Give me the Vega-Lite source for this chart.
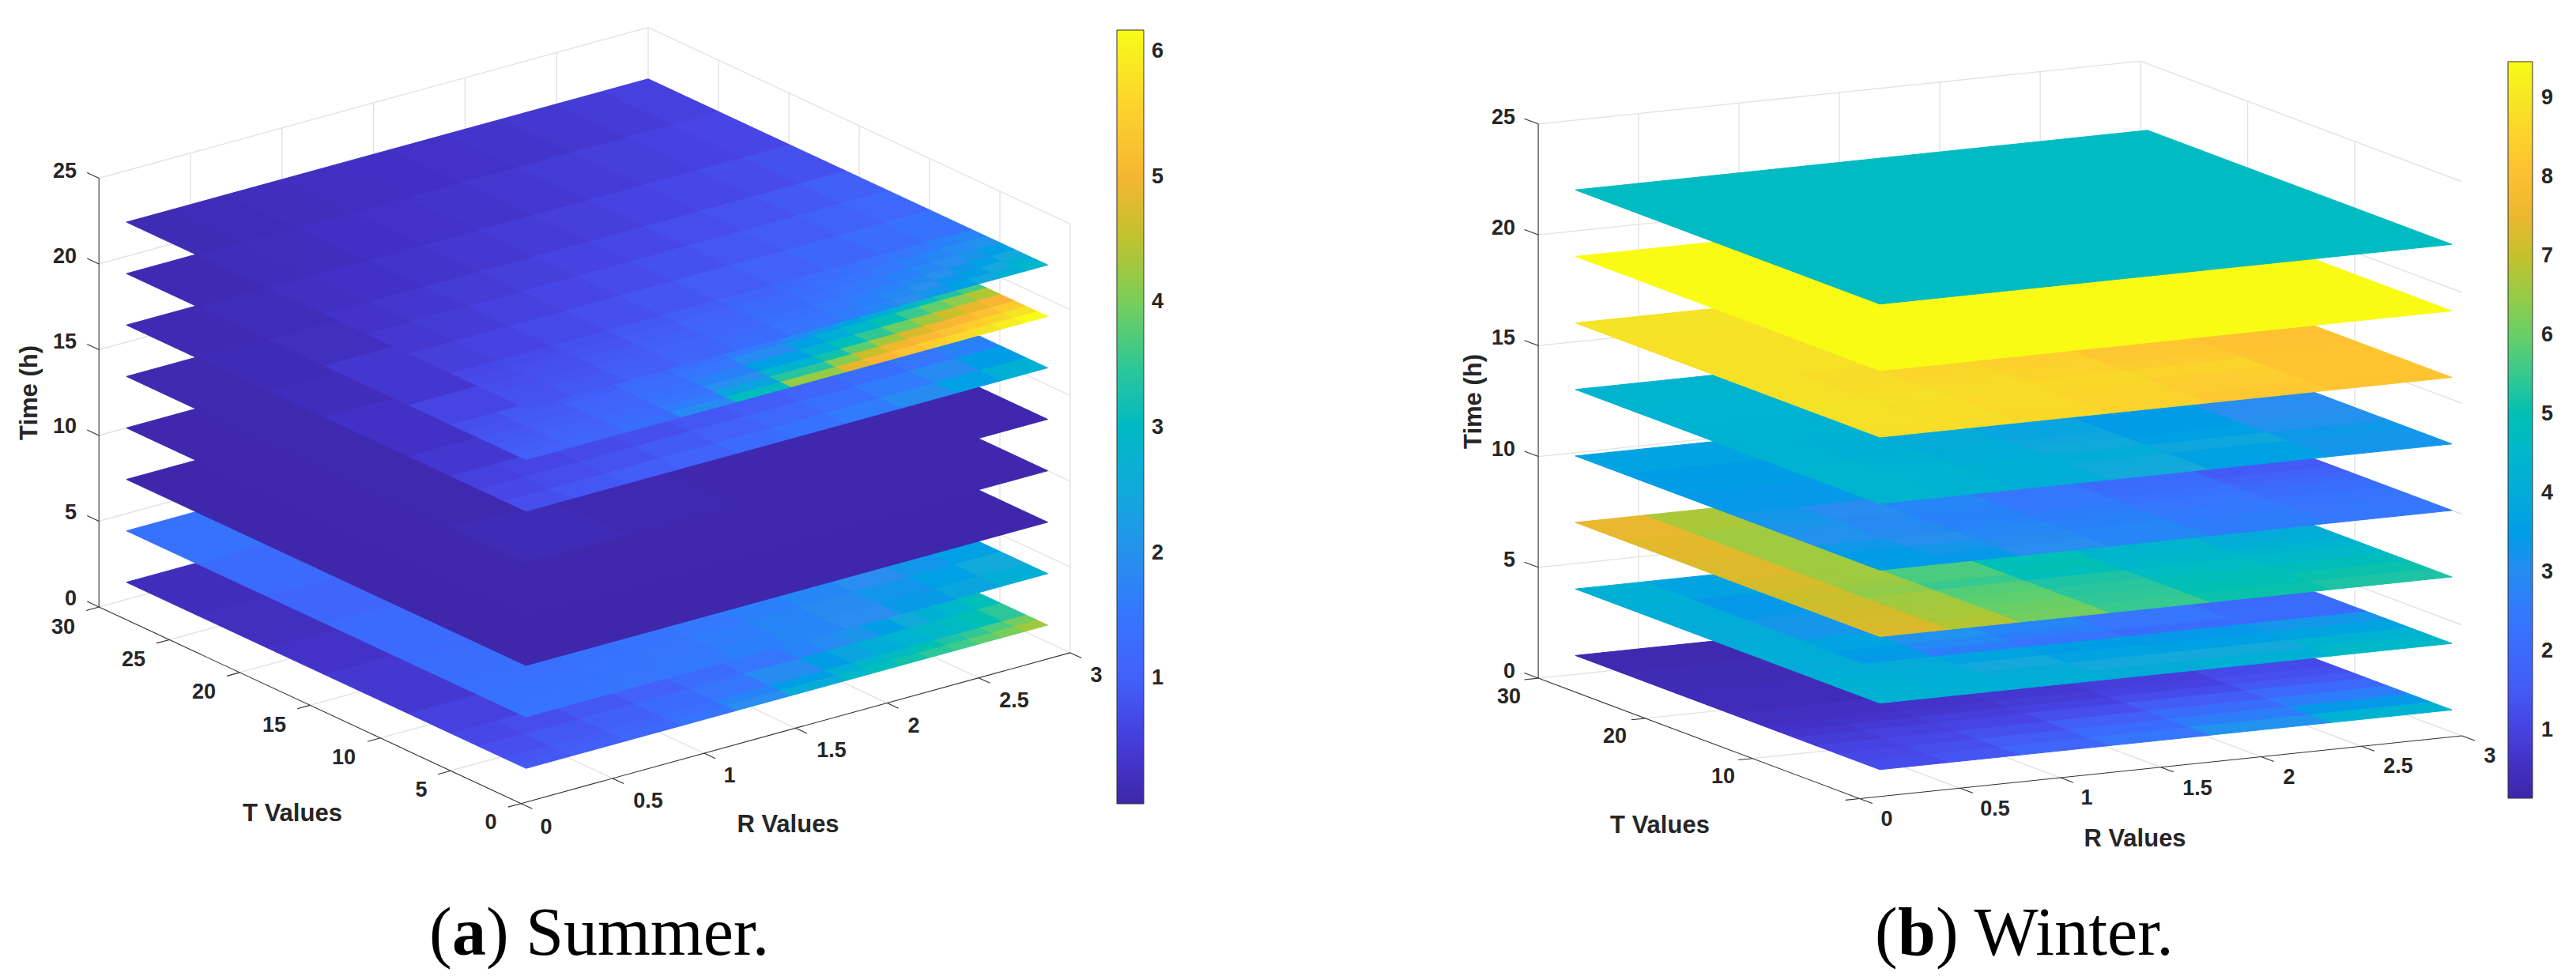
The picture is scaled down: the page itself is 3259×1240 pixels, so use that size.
{"$schema":"https://vega.github.io/schema/vega-lite/v6.json","width":3259,"height":1240,"padding":0,"autosize":{"type":"fit","contains":"padding"},"background":"white","config":{"view":{"stroke":null}},
"datasets":{
"S":[
{"z":1,"i":0,"j":0,"v":0.87},{"z":1,"i":1,"j":0,"v":0.98},{"z":1,"i":2,"j":0,"v":1.15},{"z":1,"i":3,"j":0,"v":1.45},{"z":1,"i":4,"j":0,"v":1.95},{"z":1,"i":5,"j":0,"v":2.55},{"z":1,"i":6,"j":0,"v":2.95},{"z":1,"i":7,"j":0,"v":3.15},{"z":1,"i":8,"j":0,"v":3.3},{"z":1,"i":9,"j":0,"v":3.45},{"z":1,"i":10,"j":0,"v":3.6},{"z":1,"i":11,"j":0,"v":3.8},{"z":1,"i":12,"j":0,"v":4.0},{"z":1,"i":13,"j":0,"v":4.3},
{"z":1,"i":0,"j":1,"v":0.83},{"z":1,"i":1,"j":1,"v":0.93},{"z":1,"i":2,"j":1,"v":1.08},{"z":1,"i":3,"j":1,"v":1.32},{"z":1,"i":4,"j":1,"v":1.75},{"z":1,"i":5,"j":1,"v":2.25},{"z":1,"i":6,"j":1,"v":2.65},{"z":1,"i":7,"j":1,"v":2.9},{"z":1,"i":8,"j":1,"v":3.05},{"z":1,"i":9,"j":1,"v":3.2},{"z":1,"i":10,"j":1,"v":3.35},{"z":1,"i":11,"j":1,"v":3.5},{"z":1,"i":12,"j":1,"v":3.7},{"z":1,"i":13,"j":1,"v":3.95},
{"z":1,"i":0,"j":2,"h":2,"v":0.75},{"z":1,"i":1,"j":2,"h":2,"v":0.85},{"z":1,"i":2,"j":2,"h":2,"v":0.98},{"z":1,"i":3,"j":2,"h":2,"v":1.2},{"z":1,"i":4,"j":2,"h":2,"v":1.5},{"z":1,"i":5,"j":2,"h":2,"v":1.9},{"z":1,"i":6,"j":2,"h":2,"v":2.2},{"z":1,"i":7,"j":2,"h":2,"v":2.4},{"z":1,"i":8,"j":2,"h":2,"v":2.6},{"z":1,"i":9,"j":2,"h":2,"v":2.8},{"z":1,"i":10,"j":2,"h":2,"v":2.95},{"z":1,"i":11,"j":2,"h":2,"v":3.05},{"z":1,"i":12,"j":2,"h":2,"v":3.2},{"z":1,"i":13,"j":2,"h":2,"v":3.45},
{"z":1,"i":0,"j":4,"h":2,"v":0.65},{"z":1,"i":1,"j":4,"h":2,"v":0.72},{"z":1,"i":2,"j":4,"h":2,"v":0.85},{"z":1,"i":3,"j":4,"h":2,"v":1.0},{"z":1,"i":4,"j":4,"h":2,"v":1.25},{"z":1,"i":5,"j":4,"h":2,"v":1.5},{"z":1,"i":6,"j":4,"h":2,"v":1.72},{"z":1,"i":7,"j":4,"h":2,"v":1.88},{"z":1,"i":8,"j":4,"h":2,"v":2.05},{"z":1,"i":9,"j":4,"h":2,"v":2.25},{"z":1,"i":10,"j":4,"h":2,"v":2.5},{"z":1,"i":11,"j":4,"h":2,"v":2.7},{"z":1,"i":12,"j":4,"h":2,"v":2.9},{"z":1,"i":13,"j":4,"h":2,"v":3.15},
{"z":1,"i":0,"j":6,"w":2,"h":2,"v":0.55},{"z":1,"i":0,"j":8,"w":2,"h":2,"v":0.42},{"z":1,"i":0,"j":10,"w":2,"v":0.32},{"z":1,"i":0,"j":11,"w":2,"v":0.25},{"z":1,"i":0,"j":12,"w":2,"v":0.2},{"z":1,"i":2,"j":6,"w":12,"h":7,"v":0.7},
{"z":4,"i":0,"j":0,"h":2,"v":1.45},{"z":4,"i":1,"j":0,"h":2,"v":1.45},{"z":4,"i":2,"j":0,"h":2,"v":1.5},{"z":4,"i":3,"j":0,"h":2,"v":1.55},{"z":4,"i":4,"j":0,"h":2,"v":1.65},{"z":4,"i":5,"j":0,"h":2,"v":1.8},{"z":4,"i":6,"w":2,"j":0,"h":2,"v":1.95},{"z":4,"i":8,"w":2,"j":0,"h":2,"v":2.15},{"z":4,"i":10,"w":2,"j":0,"h":2,"v":2.4},{"z":4,"i":12,"w":2,"j":0,"h":2,"v":2.65},
{"z":4,"i":0,"j":2,"h":2,"v":1.4},{"z":4,"i":1,"j":2,"h":2,"v":1.4},{"z":4,"i":2,"j":2,"h":2,"v":1.45},{"z":4,"i":3,"j":2,"h":2,"v":1.5},{"z":4,"i":4,"j":2,"h":2,"v":1.6},{"z":4,"i":5,"j":2,"h":2,"v":1.75},{"z":4,"i":6,"w":2,"j":2,"h":2,"v":1.9},{"z":4,"i":8,"w":2,"j":2,"h":2,"v":2.1},{"z":4,"i":10,"w":2,"j":2,"h":2,"v":2.3},{"z":4,"i":12,"w":2,"j":2,"h":2,"v":2.5},
{"z":4,"i":0,"j":4,"h":2,"v":1.35},{"z":4,"i":1,"j":4,"h":2,"v":1.35},{"z":4,"i":2,"j":4,"h":2,"v":1.4},{"z":4,"i":3,"j":4,"h":2,"v":1.45},{"z":4,"i":4,"j":4,"h":2,"v":1.55},{"z":4,"i":5,"j":4,"h":2,"v":1.65},{"z":4,"i":6,"w":2,"j":4,"h":2,"v":1.8},{"z":4,"i":8,"w":2,"j":4,"h":2,"v":1.95},{"z":4,"i":10,"w":2,"j":4,"h":2,"v":2.1},{"z":4,"i":12,"w":2,"j":4,"h":2,"v":2.3},
{"z":4,"i":0,"j":6,"w":2,"h":2,"v":1.3},{"z":4,"i":0,"j":8,"w":2,"h":2,"v":1.2},{"z":4,"i":0,"j":10,"w":2,"v":1.1},{"z":4,"i":0,"j":11,"w":2,"v":1.2},{"z":4,"i":0,"j":12,"w":2,"v":1.4},{"z":4,"i":2,"j":6,"w":12,"h":7,"v":1.5},
{"z":7,"i":0,"j":0,"w":14,"h":13,"v":0.03},{"z":10,"i":0,"j":0,"w":14,"h":13,"v":0.05},
{"z":13,"i":0,"j":0,"w":2,"h":6,"v":0.15},{"z":13,"i":2,"j":0,"w":2,"h":6,"v":0.1},{"z":13,"i":4,"j":0,"w":10,"h":6,"v":0.06},{"z":13,"i":0,"j":6,"w":2,"h":7,"v":0.08},{"z":13,"i":2,"j":6,"w":12,"h":7,"v":0.08},
{"z":16,"i":0,"j":0,"h":2,"v":0.75},{"z":16,"i":1,"j":0,"h":2,"v":0.85},{"z":16,"i":2,"j":0,"h":2,"v":0.95},{"z":16,"i":3,"j":0,"h":2,"v":1.05},{"z":16,"i":4,"j":0,"h":2,"v":1.2},{"z":16,"i":5,"j":0,"h":2,"v":1.4},{"z":16,"i":6,"w":2,"j":0,"h":2,"v":1.6},{"z":16,"i":8,"w":2,"j":0,"h":2,"v":1.9},{"z":16,"i":10,"w":2,"j":0,"h":2,"v":2.3},{"z":16,"i":12,"w":2,"j":0,"h":2,"v":2.7},
{"z":16,"i":0,"j":2,"h":2,"v":0.65},{"z":16,"i":1,"j":2,"h":2,"v":0.72},{"z":16,"i":2,"j":2,"h":2,"v":0.8},{"z":16,"i":3,"j":2,"h":2,"v":0.9},{"z":16,"i":4,"j":2,"h":2,"v":1.0},{"z":16,"i":5,"j":2,"h":2,"v":1.15},{"z":16,"i":6,"w":2,"j":2,"h":2,"v":1.35},{"z":16,"i":8,"w":2,"j":2,"h":2,"v":1.6},{"z":16,"i":10,"w":2,"j":2,"h":2,"v":1.9},{"z":16,"i":12,"w":2,"j":2,"h":2,"v":2.2},
{"z":16,"i":0,"j":4,"h":2,"v":0.55},{"z":16,"i":1,"j":4,"h":2,"v":0.6},{"z":16,"i":2,"j":4,"h":2,"v":0.68},{"z":16,"i":3,"j":4,"h":2,"v":0.75},{"z":16,"i":4,"j":4,"h":2,"v":0.85},{"z":16,"i":5,"j":4,"h":2,"v":0.95},{"z":16,"i":6,"w":2,"j":4,"h":2,"v":1.1},{"z":16,"i":8,"w":2,"j":4,"h":2,"v":1.3},{"z":16,"i":10,"w":2,"j":4,"h":2,"v":1.5},{"z":16,"i":12,"w":2,"j":4,"h":2,"v":1.7},
{"z":16,"i":0,"j":6,"w":2,"h":2,"v":0.4},{"z":16,"i":0,"j":8,"w":2,"h":2,"v":0.3},{"z":16,"i":0,"j":10,"w":2,"v":0.2},{"z":16,"i":0,"j":11,"w":2,"v":0.15},{"z":16,"i":0,"j":12,"w":2,"v":0.12},{"z":16,"i":2,"j":6,"w":12,"h":7,"v":0.6},
{"z":19,"i":0,"j":0,"v":1.0},{"z":19,"i":1,"j":0,"v":1.1},{"z":19,"i":2,"j":0,"v":1.3},{"z":19,"i":3,"j":0,"v":1.9},{"z":19,"i":4,"j":0,"v":3.1},{"z":19,"i":5,"j":0,"v":4.2},{"z":19,"i":6,"j":0,"v":4.8},{"z":19,"i":7,"j":0,"v":5.1},{"z":19,"i":8,"j":0,"v":5.3},{"z":19,"i":9,"j":0,"v":5.5},{"z":19,"i":10,"j":0,"v":5.65},{"z":19,"i":11,"j":0,"v":5.8},{"z":19,"i":12,"j":0,"v":5.95},{"z":19,"i":13,"j":0,"v":6.15},
{"z":19,"i":0,"j":1,"v":0.95},{"z":19,"i":1,"j":1,"v":1.05},{"z":19,"i":2,"j":1,"v":1.2},{"z":19,"i":3,"j":1,"v":1.6},{"z":19,"i":4,"j":1,"v":2.4},{"z":19,"i":5,"j":1,"v":3.4},{"z":19,"i":6,"j":1,"v":4.1},{"z":19,"i":7,"j":1,"v":4.6},{"z":19,"i":8,"j":1,"v":4.95},{"z":19,"i":9,"j":1,"v":5.15},{"z":19,"i":10,"j":1,"v":5.3},{"z":19,"i":11,"j":1,"v":5.45},{"z":19,"i":12,"j":1,"v":5.6},{"z":19,"i":13,"j":1,"v":5.8},
{"z":19,"i":0,"j":2,"v":0.9},{"z":19,"i":1,"j":2,"v":1.0},{"z":19,"i":2,"j":2,"v":1.15},{"z":19,"i":3,"j":2,"v":1.45},{"z":19,"i":4,"j":2,"v":2.0},{"z":19,"i":5,"j":2,"v":2.8},{"z":19,"i":6,"j":2,"v":3.3},{"z":19,"i":7,"j":2,"v":3.8},{"z":19,"i":8,"j":2,"v":4.3},{"z":19,"i":9,"j":2,"v":4.7},{"z":19,"i":10,"j":2,"v":4.95},{"z":19,"i":11,"j":2,"v":5.1},{"z":19,"i":12,"j":2,"v":5.25},{"z":19,"i":13,"j":2,"v":5.45},
{"z":19,"i":0,"j":3,"v":0.85},{"z":19,"i":1,"j":3,"v":0.95},{"z":19,"i":2,"j":3,"v":1.1},{"z":19,"i":3,"j":3,"v":1.35},{"z":19,"i":4,"j":3,"v":1.7},{"z":19,"i":5,"j":3,"v":2.3},{"z":19,"i":6,"j":3,"v":2.75},{"z":19,"i":7,"j":3,"v":3.1},{"z":19,"i":8,"j":3,"v":3.5},{"z":19,"i":9,"j":3,"v":3.9},{"z":19,"i":10,"j":3,"v":4.3},{"z":19,"i":11,"j":3,"v":4.6},{"z":19,"i":12,"j":3,"v":4.85},{"z":19,"i":13,"j":3,"v":5.05},
{"z":19,"i":0,"j":4,"v":0.8},{"z":19,"i":1,"j":4,"v":0.9},{"z":19,"i":2,"j":4,"v":1.05},{"z":19,"i":3,"j":4,"v":1.25},{"z":19,"i":4,"j":4,"v":1.5},{"z":19,"i":5,"j":4,"v":1.9},{"z":19,"i":6,"j":4,"v":2.3},{"z":19,"i":7,"j":4,"v":2.6},{"z":19,"i":8,"j":4,"v":2.9},{"z":19,"i":9,"j":4,"v":3.2},{"z":19,"i":10,"j":4,"v":3.55},{"z":19,"i":11,"j":4,"v":3.85},{"z":19,"i":12,"j":4,"v":4.15},{"z":19,"i":13,"j":4,"v":4.4},
{"z":19,"i":0,"j":5,"v":0.75},{"z":19,"i":1,"j":5,"v":0.85},{"z":19,"i":2,"j":5,"v":0.95},{"z":19,"i":3,"j":5,"v":1.15},{"z":19,"i":4,"j":5,"v":1.35},{"z":19,"i":5,"j":5,"v":1.6},{"z":19,"i":6,"j":5,"v":1.85},{"z":19,"i":7,"j":5,"v":2.1},{"z":19,"i":8,"j":5,"v":2.35},{"z":19,"i":9,"j":5,"v":2.6},{"z":19,"i":10,"j":5,"v":2.85},{"z":19,"i":11,"j":5,"v":3.1},{"z":19,"i":12,"j":5,"v":3.35},{"z":19,"i":13,"j":5,"v":3.65},
{"z":19,"i":0,"j":6,"w":2,"h":2,"v":0.6},{"z":19,"i":0,"j":8,"w":2,"h":2,"v":0.4},{"z":19,"i":0,"j":10,"w":2,"v":0.25},{"z":19,"i":0,"j":11,"w":2,"v":0.18},{"z":19,"i":0,"j":12,"w":2,"v":0.12},{"z":19,"i":2,"j":6,"w":12,"h":7,"v":0.8},
{"z":22,"i":0,"j":0,"v":0.82},{"z":22,"i":1,"j":0,"v":0.88},{"z":22,"i":2,"j":0,"v":0.98},{"z":22,"i":3,"j":0,"v":1.12},{"z":22,"i":4,"j":0,"v":1.28},{"z":22,"i":5,"j":0,"v":1.48},{"z":22,"i":6,"j":0,"v":1.66},{"z":22,"i":7,"j":0,"v":1.8},{"z":22,"i":8,"j":0,"v":1.95},{"z":22,"i":9,"j":0,"v":2.1},{"z":22,"i":10,"j":0,"v":2.28},{"z":22,"i":11,"j":0,"v":2.45},{"z":22,"i":12,"j":0,"v":2.65},{"z":22,"i":13,"j":0,"v":2.9},
{"z":22,"i":0,"j":1,"v":0.8},{"z":22,"i":1,"j":1,"v":0.85},{"z":22,"i":2,"j":1,"v":0.95},{"z":22,"i":3,"j":1,"v":1.08},{"z":22,"i":4,"j":1,"v":1.22},{"z":22,"i":5,"j":1,"v":1.42},{"z":22,"i":6,"j":1,"v":1.58},{"z":22,"i":7,"j":1,"v":1.7},{"z":22,"i":8,"j":1,"v":1.84},{"z":22,"i":9,"j":1,"v":1.98},{"z":22,"i":10,"j":1,"v":2.14},{"z":22,"i":11,"j":1,"v":2.3},{"z":22,"i":12,"j":1,"v":2.48},{"z":22,"i":13,"j":1,"v":2.7},
{"z":22,"i":0,"j":2,"v":0.77},{"z":22,"i":1,"j":2,"v":0.82},{"z":22,"i":2,"j":2,"v":0.92},{"z":22,"i":3,"j":2,"v":1.03},{"z":22,"i":4,"j":2,"v":1.16},{"z":22,"i":5,"j":2,"v":1.34},{"z":22,"i":6,"j":2,"v":1.48},{"z":22,"i":7,"j":2,"v":1.6},{"z":22,"i":8,"j":2,"v":1.72},{"z":22,"i":9,"j":2,"v":1.85},{"z":22,"i":10,"j":2,"v":1.98},{"z":22,"i":11,"j":2,"v":2.12},{"z":22,"i":12,"j":2,"v":2.28},{"z":22,"i":13,"j":2,"v":2.48},
{"z":22,"i":0,"j":3,"v":0.73},{"z":22,"i":1,"j":3,"v":0.78},{"z":22,"i":2,"j":3,"v":0.87},{"z":22,"i":3,"j":3,"v":0.98},{"z":22,"i":4,"j":3,"v":1.1},{"z":22,"i":5,"j":3,"v":1.26},{"z":22,"i":6,"j":3,"v":1.38},{"z":22,"i":7,"j":3,"v":1.48},{"z":22,"i":8,"j":3,"v":1.58},{"z":22,"i":9,"j":3,"v":1.7},{"z":22,"i":10,"j":3,"v":1.82},{"z":22,"i":11,"j":3,"v":1.94},{"z":22,"i":12,"j":3,"v":2.08},{"z":22,"i":13,"j":3,"v":2.25},
{"z":22,"i":0,"j":4,"v":0.68},{"z":22,"i":1,"j":4,"v":0.74},{"z":22,"i":2,"j":4,"v":0.82},{"z":22,"i":3,"j":4,"v":0.92},{"z":22,"i":4,"j":4,"v":1.03},{"z":22,"i":5,"j":4,"v":1.17},{"z":22,"i":6,"j":4,"v":1.27},{"z":22,"i":7,"j":4,"v":1.36},{"z":22,"i":8,"j":4,"v":1.45},{"z":22,"i":9,"j":4,"v":1.55},{"z":22,"i":10,"j":4,"v":1.65},{"z":22,"i":11,"j":4,"v":1.76},{"z":22,"i":12,"j":4,"v":1.88},{"z":22,"i":13,"j":4,"v":2.02},
{"z":22,"i":0,"j":5,"v":0.63},{"z":22,"i":1,"j":5,"v":0.69},{"z":22,"i":2,"j":5,"v":0.77},{"z":22,"i":3,"j":5,"v":0.86},{"z":22,"i":4,"j":5,"v":0.96},{"z":22,"i":5,"j":5,"v":1.08},{"z":22,"i":6,"j":5,"v":1.17},{"z":22,"i":7,"j":5,"v":1.25},{"z":22,"i":8,"j":5,"v":1.33},{"z":22,"i":9,"j":5,"v":1.41},{"z":22,"i":10,"j":5,"v":1.5},{"z":22,"i":11,"j":5,"v":1.59},{"z":22,"i":12,"j":5,"v":1.69},{"z":22,"i":13,"j":5,"v":1.8},
{"z":22,"i":0,"j":6,"h":2,"v":0.52},{"z":22,"i":1,"j":6,"h":2,"v":0.58},{"z":22,"i":2,"j":6,"h":2,"v":0.66},{"z":22,"i":3,"j":6,"h":2,"v":0.74},{"z":22,"i":4,"j":6,"h":2,"v":0.83},{"z":22,"i":5,"j":6,"h":2,"v":0.92},{"z":22,"i":6,"w":2,"j":6,"h":2,"v":1.02},{"z":22,"i":8,"w":2,"j":6,"h":2,"v":1.12},{"z":22,"i":10,"w":2,"j":6,"h":2,"v":1.25},{"z":22,"i":12,"w":2,"j":6,"h":2,"v":1.4},
{"z":22,"i":0,"j":8,"v":0.42},{"z":22,"i":1,"j":8,"v":0.48},{"z":22,"i":2,"j":8,"v":0.55},{"z":22,"i":3,"j":8,"v":0.62},{"z":22,"i":4,"j":8,"v":0.7},{"z":22,"i":5,"j":8,"v":0.78},{"z":22,"i":6,"w":2,"j":8,"v":0.86},{"z":22,"i":8,"w":2,"j":8,"v":0.94},{"z":22,"i":10,"w":2,"j":8,"v":1.04},{"z":22,"i":12,"w":2,"j":8,"v":1.15},
{"z":22,"i":0,"j":9,"v":0.34},{"z":22,"i":1,"j":9,"v":0.4},{"z":22,"i":2,"j":9,"v":0.46},{"z":22,"i":3,"j":9,"v":0.52},{"z":22,"i":4,"j":9,"v":0.58},{"z":22,"i":5,"j":9,"v":0.65},{"z":22,"i":6,"w":2,"j":9,"v":0.72},{"z":22,"i":8,"w":2,"j":9,"v":0.8},{"z":22,"i":10,"w":2,"j":9,"v":0.88},{"z":22,"i":12,"w":2,"j":9,"v":0.98},
{"z":22,"i":0,"j":10,"v":0.27},{"z":22,"i":1,"j":10,"v":0.31},{"z":22,"i":2,"j":10,"v":0.36},{"z":22,"i":3,"j":10,"v":0.42},{"z":22,"i":4,"j":10,"v":0.47},{"z":22,"i":5,"j":10,"v":0.52},{"z":22,"i":6,"w":2,"j":10,"v":0.58},{"z":22,"i":8,"w":2,"j":10,"v":0.64},{"z":22,"i":10,"w":2,"j":10,"v":0.7},{"z":22,"i":12,"w":2,"j":10,"v":0.78},
{"z":22,"i":0,"j":11,"v":0.2},{"z":22,"i":1,"j":11,"v":0.24},{"z":22,"i":2,"j":11,"v":0.29},{"z":22,"i":3,"j":11,"v":0.33},{"z":22,"i":4,"j":11,"v":0.37},{"z":22,"i":5,"j":11,"v":0.42},{"z":22,"i":6,"w":2,"j":11,"v":0.47},{"z":22,"i":8,"w":2,"j":11,"v":0.52},{"z":22,"i":10,"w":2,"j":11,"v":0.56},{"z":22,"i":12,"w":2,"j":11,"v":0.62},
{"z":22,"i":0,"j":12,"v":0.14},{"z":22,"i":1,"j":12,"v":0.18},{"z":22,"i":2,"j":12,"v":0.22},{"z":22,"i":3,"j":12,"v":0.26},{"z":22,"i":4,"j":12,"v":0.29},{"z":22,"i":5,"j":12,"v":0.33},{"z":22,"i":6,"w":2,"j":12,"v":0.37},{"z":22,"i":8,"w":2,"j":12,"v":0.42},{"z":22,"i":10,"w":2,"j":12,"v":0.48},{"z":22,"i":12,"w":2,"j":12,"v":0.55}
],
"W":[
{"z":1,"i":0,"j":0,"v":1.2},{"z":1,"i":1,"j":0,"v":1.4},{"z":1,"i":2,"j":0,"v":1.8},{"z":1,"i":3,"j":0,"v":2.4},{"z":1,"i":4,"j":0,"v":3.2},{"z":1,"i":5,"j":0,"v":4.3},
{"z":1,"i":0,"j":1,"v":1.1},{"z":1,"i":1,"j":1,"v":1.25},{"z":1,"i":2,"j":1,"v":1.55},{"z":1,"i":3,"j":1,"v":2.0},{"z":1,"i":4,"j":1,"v":2.6},{"z":1,"i":5,"j":1,"v":3.4},
{"z":1,"i":0,"j":2,"v":1.0},{"z":1,"i":1,"j":2,"v":1.1},{"z":1,"i":2,"j":2,"v":1.3},{"z":1,"i":3,"j":2,"v":1.6},{"z":1,"i":4,"j":2,"v":2.05},{"z":1,"i":5,"j":2,"v":2.6},
{"z":1,"i":0,"j":3,"v":0.85},{"z":1,"i":1,"j":3,"v":0.95},{"z":1,"i":2,"j":3,"v":1.05},{"z":1,"i":3,"j":3,"v":1.25},{"z":1,"i":4,"j":3,"v":1.55},{"z":1,"i":5,"j":3,"v":1.9},
{"z":1,"i":0,"j":4,"v":0.7},{"z":1,"i":1,"j":4,"v":0.8},{"z":1,"i":2,"j":4,"v":0.9},{"z":1,"i":3,"j":4,"v":1.0},{"z":1,"i":4,"j":4,"v":1.2},{"z":1,"i":5,"j":4,"v":1.45},
{"z":1,"i":0,"j":5,"v":0.6},{"z":1,"i":1,"j":5,"v":0.65},{"z":1,"i":2,"j":5,"v":0.75},{"z":1,"i":3,"j":5,"v":0.85},{"z":1,"i":4,"j":5,"v":1.0},{"z":1,"i":5,"j":5,"v":1.25},
{"z":1,"i":0,"j":6,"v":0.5},{"z":1,"i":1,"j":6,"v":0.55},{"z":1,"i":2,"j":6,"v":0.65},{"z":1,"i":3,"j":6,"v":0.75},{"z":1,"i":4,"j":6,"v":0.9},{"z":1,"i":5,"j":6,"v":1.15},
{"z":1,"i":0,"j":7,"w":2,"v":0.4},{"z":1,"i":0,"j":8,"w":2,"v":0.33},{"z":1,"i":0,"j":9,"w":2,"v":0.28},{"z":1,"i":2,"j":7,"w":4,"h":3,"v":0.8},
{"z":4,"i":0,"j":0,"v":4.3},{"z":4,"i":1,"j":0,"v":4.2},{"z":4,"i":2,"j":0,"v":4.1},{"z":4,"i":3,"j":0,"v":4.0},{"z":4,"i":4,"j":0,"v":4.2},{"z":4,"i":5,"j":0,"v":4.6},
{"z":4,"i":0,"j":1,"v":4.25},{"z":4,"i":1,"j":1,"v":4.15},{"z":4,"i":2,"j":1,"v":4.0},{"z":4,"i":3,"j":1,"v":3.9},{"z":4,"i":4,"j":1,"v":3.9},{"z":4,"i":5,"j":1,"v":4.3},
{"z":4,"i":0,"j":2,"v":4.2},{"z":4,"i":1,"j":2,"v":4.1},{"z":4,"i":2,"j":2,"v":3.9},{"z":4,"i":3,"j":2,"v":3.7},{"z":4,"i":4,"j":2,"v":3.6},{"z":4,"i":5,"j":2,"v":3.7},
{"z":4,"i":0,"j":3,"v":4.1},{"z":4,"i":1,"j":3,"v":4.0},{"z":4,"i":2,"j":3,"v":3.7},{"z":4,"i":3,"j":3,"v":3.5},{"z":4,"i":4,"j":3,"v":3.4},{"z":4,"i":5,"j":3,"v":3.3},
{"z":4,"i":0,"j":4,"v":4.0},{"z":4,"i":1,"j":4,"v":3.4},{"z":4,"i":2,"j":4,"v":2.6},{"z":4,"i":3,"j":4,"v":2.3},{"z":4,"i":4,"j":4,"v":2.05},{"z":4,"i":5,"j":4,"v":2.0},
{"z":4,"i":0,"j":5,"v":4.1},{"z":4,"i":1,"j":5,"v":3.5},{"z":4,"i":2,"j":5,"v":2.9},{"z":4,"i":3,"j":5,"v":2.6},{"z":4,"i":4,"j":5,"v":2.4},{"z":4,"i":5,"j":5,"v":2.1},
{"z":4,"i":0,"j":6,"v":4.1},{"z":4,"i":1,"j":6,"v":3.7},{"z":4,"i":2,"j":6,"v":3.2},{"z":4,"i":3,"j":6,"v":2.8},{"z":4,"i":4,"j":6,"v":2.4},{"z":4,"i":5,"j":6,"v":1.95},
{"z":4,"i":0,"j":7,"v":4.0},{"z":4,"i":1,"j":7,"v":3.3},{"z":4,"i":0,"j":8,"v":4.1},{"z":4,"i":1,"j":8,"v":3.4},{"z":4,"i":0,"j":9,"v":4.2},{"z":4,"i":1,"j":9,"v":3.7},{"z":4,"i":2,"j":7,"w":4,"h":3,"v":2.8},
{"z":7,"i":0,"j":0,"v":7.25},{"z":7,"i":1,"j":0,"v":6.8},{"z":7,"i":2,"j":0,"v":6.1},{"z":7,"i":3,"j":0,"v":5.5},{"z":7,"i":4,"j":0,"v":5.1},{"z":7,"i":5,"j":0,"v":5.2},
{"z":7,"i":0,"j":1,"v":7.2},{"z":7,"i":1,"j":1,"v":6.7},{"z":7,"i":2,"j":1,"v":6.0},{"z":7,"i":3,"j":1,"v":5.4},{"z":7,"i":4,"j":1,"v":5.0},{"z":7,"i":5,"j":1,"v":5.1},
{"z":7,"i":0,"j":2,"v":7.15},{"z":7,"i":1,"j":2,"v":6.65},{"z":7,"i":2,"j":2,"v":5.9},{"z":7,"i":3,"j":2,"v":5.3},{"z":7,"i":4,"j":2,"v":4.9},{"z":7,"i":5,"j":2,"v":4.85},
{"z":7,"i":0,"j":3,"v":7.1},{"z":7,"i":1,"j":3,"v":6.6},{"z":7,"i":2,"j":3,"v":5.8},{"z":7,"i":3,"j":3,"v":5.2},{"z":7,"i":4,"j":3,"v":4.75},{"z":7,"i":5,"j":3,"v":4.6},
{"z":7,"i":0,"j":4,"v":7.05},{"z":7,"i":1,"j":4,"v":6.4},{"z":7,"i":2,"j":4,"v":5.5},{"z":7,"i":3,"j":4,"v":4.9},{"z":7,"i":4,"j":4,"v":4.55},{"z":7,"i":5,"j":4,"v":4.4},
{"z":7,"i":0,"j":5,"v":7.1},{"z":7,"i":1,"j":5,"v":6.5},{"z":7,"i":2,"j":5,"v":5.7},{"z":7,"i":3,"j":5,"v":5.0},{"z":7,"i":4,"j":5,"v":4.5},{"z":7,"i":5,"j":5,"v":4.2},
{"z":7,"i":0,"j":6,"v":7.2},{"z":7,"i":1,"j":6,"v":6.6},{"z":7,"i":2,"j":6,"v":5.7},{"z":7,"i":3,"j":6,"v":4.9},{"z":7,"i":4,"j":6,"v":4.4},{"z":7,"i":5,"j":6,"v":4.0},
{"z":7,"i":0,"j":7,"v":7.3},{"z":7,"i":1,"j":7,"v":6.6},{"z":7,"i":0,"j":8,"v":7.4},{"z":7,"i":1,"j":8,"v":6.6},{"z":7,"i":0,"j":9,"v":7.5},{"z":7,"i":1,"j":9,"v":6.7},{"z":7,"i":2,"j":7,"w":4,"h":3,"v":5.0},
{"z":10,"i":0,"j":0,"v":3.5},{"z":10,"i":1,"j":0,"v":3.4},{"z":10,"i":2,"j":0,"v":3.1},{"z":10,"i":3,"j":0,"v":2.85},{"z":10,"i":4,"j":0,"v":2.6},{"z":10,"i":5,"j":0,"v":2.45},
{"z":10,"i":0,"j":1,"v":3.45},{"z":10,"i":1,"j":1,"v":3.3},{"z":10,"i":2,"j":1,"v":3.0},{"z":10,"i":3,"j":1,"v":2.8},{"z":10,"i":4,"j":1,"v":2.55},{"z":10,"i":5,"j":1,"v":2.4},
{"z":10,"i":0,"j":2,"v":3.35},{"z":10,"i":1,"j":2,"v":3.15},{"z":10,"i":2,"j":2,"v":2.9},{"z":10,"i":3,"j":2,"v":2.7},{"z":10,"i":4,"j":2,"v":2.5},{"z":10,"i":5,"j":2,"v":2.3},
{"z":10,"i":0,"j":3,"v":3.2},{"z":10,"i":1,"j":3,"v":3.0},{"z":10,"i":2,"j":3,"v":2.75},{"z":10,"i":3,"j":3,"v":2.6},{"z":10,"i":4,"j":3,"v":2.35},{"z":10,"i":5,"j":3,"v":2.1},
{"z":10,"i":0,"j":4,"v":3.2},{"z":10,"i":1,"j":4,"v":2.95},{"z":10,"i":2,"j":4,"v":2.7},{"z":10,"i":3,"j":4,"v":2.5},{"z":10,"i":4,"j":4,"v":2.2},{"z":10,"i":5,"j":4,"v":1.9},
{"z":10,"i":0,"j":5,"v":3.25},{"z":10,"i":1,"j":5,"v":3.0},{"z":10,"i":2,"j":5,"v":2.75},{"z":10,"i":3,"j":5,"v":2.45},{"z":10,"i":4,"j":5,"v":2.1},{"z":10,"i":5,"j":5,"v":1.7},
{"z":10,"i":0,"j":6,"v":3.3},{"z":10,"i":1,"j":6,"v":3.05},{"z":10,"i":2,"j":6,"v":2.8},{"z":10,"i":3,"j":6,"v":2.4},{"z":10,"i":4,"j":6,"v":2.0},{"z":10,"i":5,"j":6,"v":1.5},
{"z":10,"i":0,"j":7,"w":2,"v":3.4},{"z":10,"i":0,"j":8,"w":2,"v":3.5},{"z":10,"i":0,"j":9,"w":2,"v":3.7},{"z":10,"i":2,"j":7,"w":4,"h":3,"v":2.2},
{"z":13,"i":0,"j":0,"v":4.4},{"z":13,"i":1,"j":0,"v":4.3},{"z":13,"i":2,"j":0,"v":4.1},{"z":13,"i":3,"j":0,"v":3.9},{"z":13,"i":4,"j":0,"v":3.6},{"z":13,"i":5,"j":0,"v":3.3},
{"z":13,"i":0,"j":1,"v":4.4},{"z":13,"i":1,"j":1,"v":4.3},{"z":13,"i":2,"j":1,"v":4.15},{"z":13,"i":3,"j":1,"v":3.95},{"z":13,"i":4,"j":1,"v":3.65},{"z":13,"i":5,"j":1,"v":3.3},
{"z":13,"i":0,"j":2,"v":4.45},{"z":13,"i":1,"j":2,"v":4.35},{"z":13,"i":2,"j":2,"v":4.2},{"z":13,"i":3,"j":2,"v":4.1},{"z":13,"i":4,"j":2,"v":3.8},{"z":13,"i":5,"j":2,"v":3.35},
{"z":13,"i":0,"j":3,"v":4.4},{"z":13,"i":1,"j":3,"v":4.3},{"z":13,"i":2,"j":3,"v":4.1},{"z":13,"i":3,"j":3,"v":3.95},{"z":13,"i":4,"j":3,"v":3.6},{"z":13,"i":5,"j":3,"v":3.2},
{"z":13,"i":0,"j":4,"v":4.35},{"z":13,"i":1,"j":4,"v":4.25},{"z":13,"i":2,"j":4,"v":4.05},{"z":13,"i":3,"j":4,"v":3.8},{"z":13,"i":4,"j":4,"v":3.5},{"z":13,"i":5,"j":4,"v":3.15},
{"z":13,"i":0,"j":5,"v":4.3},{"z":13,"i":1,"j":5,"v":4.2},{"z":13,"i":2,"j":5,"v":4.0},{"z":13,"i":3,"j":5,"v":3.75},{"z":13,"i":4,"j":5,"v":3.45},{"z":13,"i":5,"j":5,"v":3.1},
{"z":13,"i":0,"j":6,"v":4.3},{"z":13,"i":1,"j":6,"v":4.2},{"z":13,"i":2,"j":6,"v":4.0},{"z":13,"i":3,"j":6,"v":3.75},{"z":13,"i":4,"j":6,"v":3.45},{"z":13,"i":5,"j":6,"v":3.1},
{"z":13,"i":0,"j":7,"w":2,"v":4.3},{"z":13,"i":0,"j":8,"w":2,"v":4.35},{"z":13,"i":0,"j":9,"w":2,"v":4.4},{"z":13,"i":2,"j":7,"w":4,"h":3,"v":3.6},
{"z":16,"i":0,"j":0,"v":8.8},{"z":16,"i":1,"j":0,"v":8.75},{"z":16,"i":2,"j":0,"v":8.65},{"z":16,"i":3,"j":0,"v":8.5},{"z":16,"i":4,"j":0,"v":8.3},{"z":16,"i":5,"j":0,"v":8.15},
{"z":16,"i":0,"j":1,"v":8.85},{"z":16,"i":1,"j":1,"v":8.8},{"z":16,"i":2,"j":1,"v":8.7},{"z":16,"i":3,"j":1,"v":8.55},{"z":16,"i":4,"j":1,"v":8.35},{"z":16,"i":5,"j":1,"v":8.2},
{"z":16,"i":0,"j":2,"v":8.85},{"z":16,"i":1,"j":2,"v":8.8},{"z":16,"i":2,"j":2,"v":8.7},{"z":16,"i":3,"j":2,"v":8.6},{"z":16,"i":4,"j":2,"v":8.4},{"z":16,"i":5,"j":2,"v":8.2},
{"z":16,"i":0,"j":3,"v":8.9},{"z":16,"i":1,"j":3,"v":8.85},{"z":16,"i":2,"j":3,"v":8.75},{"z":16,"i":3,"j":3,"v":8.65},{"z":16,"i":4,"j":3,"v":8.55},{"z":16,"i":5,"j":3,"v":8.2},
{"z":16,"i":0,"j":4,"v":8.85},{"z":16,"i":1,"j":4,"v":8.8},{"z":16,"i":2,"j":4,"v":8.7},{"z":16,"i":3,"j":4,"v":8.55},{"z":16,"i":4,"j":4,"v":8.35},{"z":16,"i":5,"j":4,"v":8.15},
{"z":16,"i":0,"j":5,"v":8.85},{"z":16,"i":1,"j":5,"v":8.75},{"z":16,"i":2,"j":5,"v":8.65},{"z":16,"i":3,"j":5,"v":8.5},{"z":16,"i":4,"j":5,"v":8.3},{"z":16,"i":5,"j":5,"v":8.1},
{"z":16,"i":0,"j":6,"v":8.85},{"z":16,"i":1,"j":6,"v":8.75},{"z":16,"i":2,"j":6,"v":8.6},{"z":16,"i":3,"j":6,"v":8.45},{"z":16,"i":4,"j":6,"v":8.25},{"z":16,"i":5,"j":6,"v":8.1},
{"z":16,"i":0,"j":7,"w":2,"v":8.85},{"z":16,"i":0,"j":8,"w":2,"v":8.85},{"z":16,"i":0,"j":9,"w":2,"v":8.9},{"z":16,"i":2,"j":7,"w":4,"h":3,"v":8.4},
{"z":19,"i":0,"j":0,"w":6,"h":10,"v":9.46},{"z":22,"i":0,"j":0,"w":6,"h":10,"v":4.75}
],
"L":[
{"p":"S","k":"g","r":0,"t":30,"z":0,"r2":3,"t2":30,"z2":0},{"p":"S","k":"g","r":0,"t":30,"z":5,"r2":3,"t2":30,"z2":5},{"p":"S","k":"g","r":0,"t":30,"z":10,"r2":3,"t2":30,"z2":10},{"p":"S","k":"g","r":0,"t":30,"z":15,"r2":3,"t2":30,"z2":15},{"p":"S","k":"g","r":0,"t":30,"z":20,"r2":3,"t2":30,"z2":20},{"p":"S","k":"g","r":0,"t":30,"z":25,"r2":3,"t2":30,"z2":25},
{"p":"S","k":"g","r":3,"t":30,"z":0,"r2":3,"t2":0,"z2":0},{"p":"S","k":"g","r":3,"t":30,"z":5,"r2":3,"t2":0,"z2":5},{"p":"S","k":"g","r":3,"t":30,"z":10,"r2":3,"t2":0,"z2":10},{"p":"S","k":"g","r":3,"t":30,"z":15,"r2":3,"t2":0,"z2":15},{"p":"S","k":"g","r":3,"t":30,"z":20,"r2":3,"t2":0,"z2":20},{"p":"S","k":"g","r":3,"t":30,"z":25,"r2":3,"t2":0,"z2":25},
{"p":"S","k":"g","r":0.5,"t":30,"z":0,"r2":0.5,"t2":30,"z2":25},{"p":"S","k":"g","r":1,"t":30,"z":0,"r2":1,"t2":30,"z2":25},{"p":"S","k":"g","r":1.5,"t":30,"z":0,"r2":1.5,"t2":30,"z2":25},{"p":"S","k":"g","r":2,"t":30,"z":0,"r2":2,"t2":30,"z2":25},{"p":"S","k":"g","r":2.5,"t":30,"z":0,"r2":2.5,"t2":30,"z2":25},{"p":"S","k":"g","r":3,"t":30,"z":0,"r2":3,"t2":30,"z2":25},
{"p":"S","k":"g","r":3,"t":0,"z":0,"r2":3,"t2":0,"z2":25},{"p":"S","k":"g","r":3,"t":5,"z":0,"r2":3,"t2":5,"z2":25},{"p":"S","k":"g","r":3,"t":10,"z":0,"r2":3,"t2":10,"z2":25},{"p":"S","k":"g","r":3,"t":15,"z":0,"r2":3,"t2":15,"z2":25},{"p":"S","k":"g","r":3,"t":20,"z":0,"r2":3,"t2":20,"z2":25},{"p":"S","k":"g","r":3,"t":25,"z":0,"r2":3,"t2":25,"z2":25},
{"p":"S","k":"g","r":0.5,"t":0,"z":0,"r2":0.5,"t2":30,"z2":0},{"p":"S","k":"g","r":1,"t":0,"z":0,"r2":1,"t2":30,"z2":0},{"p":"S","k":"g","r":1.5,"t":0,"z":0,"r2":1.5,"t2":30,"z2":0},{"p":"S","k":"g","r":2,"t":0,"z":0,"r2":2,"t2":30,"z2":0},{"p":"S","k":"g","r":2.5,"t":0,"z":0,"r2":2.5,"t2":30,"z2":0},
{"p":"S","k":"g","r":0,"t":5,"z":0,"r2":3,"t2":5,"z2":0},{"p":"S","k":"g","r":0,"t":10,"z":0,"r2":3,"t2":10,"z2":0},{"p":"S","k":"g","r":0,"t":15,"z":0,"r2":3,"t2":15,"z2":0},{"p":"S","k":"g","r":0,"t":20,"z":0,"r2":3,"t2":20,"z2":0},{"p":"S","k":"g","r":0,"t":25,"z":0,"r2":3,"t2":25,"z2":0},
{"p":"S","k":"a","r":0,"t":30,"z":0,"r2":0,"t2":30,"z2":25},{"p":"S","k":"a","r":0,"t":0,"z":0,"r2":0,"t2":30,"z2":0},{"p":"S","k":"a","r":0,"t":0,"z":0,"r2":3,"t2":0,"z2":0},
{"p":"S","k":"a","r":0,"t":30,"z":0,"r2":0,"t2":30.84,"z2":0},{"p":"S","k":"a","r":0,"t":30,"z":5,"r2":0,"t2":30.84,"z2":5},{"p":"S","k":"a","r":0,"t":30,"z":10,"r2":0,"t2":30.84,"z2":10},{"p":"S","k":"a","r":0,"t":30,"z":15,"r2":0,"t2":30.84,"z2":15},{"p":"S","k":"a","r":0,"t":30,"z":20,"r2":0,"t2":30.84,"z2":20},{"p":"S","k":"a","r":0,"t":30,"z":25,"r2":0,"t2":30.84,"z2":25},
{"p":"S","k":"a","r":0,"t":0,"z":0,"r2":-0.07,"t2":0,"z2":0},{"p":"S","k":"a","r":0,"t":5,"z":0,"r2":-0.07,"t2":5,"z2":0},{"p":"S","k":"a","r":0,"t":10,"z":0,"r2":-0.07,"t2":10,"z2":0},{"p":"S","k":"a","r":0,"t":15,"z":0,"r2":-0.07,"t2":15,"z2":0},{"p":"S","k":"a","r":0,"t":20,"z":0,"r2":-0.07,"t2":20,"z2":0},{"p":"S","k":"a","r":0,"t":25,"z":0,"r2":-0.07,"t2":25,"z2":0},{"p":"S","k":"a","r":0,"t":30,"z":0,"r2":-0.07,"t2":30,"z2":0},
{"p":"S","k":"a","r":0,"t":0,"z":0,"r2":0,"t2":-0.8,"z2":0},{"p":"S","k":"a","r":0.5,"t":0,"z":0,"r2":0.5,"t2":-0.8,"z2":0},{"p":"S","k":"a","r":1,"t":0,"z":0,"r2":1,"t2":-0.8,"z2":0},{"p":"S","k":"a","r":1.5,"t":0,"z":0,"r2":1.5,"t2":-0.8,"z2":0},{"p":"S","k":"a","r":2,"t":0,"z":0,"r2":2,"t2":-0.8,"z2":0},{"p":"S","k":"a","r":2.5,"t":0,"z":0,"r2":2.5,"t2":-0.8,"z2":0},{"p":"S","k":"a","r":3,"t":0,"z":0,"r2":3,"t2":-0.8,"z2":0},
{"p":"W","k":"g","r":0,"t":30,"z":0,"r2":3,"t2":30,"z2":0},{"p":"W","k":"g","r":0,"t":30,"z":5,"r2":3,"t2":30,"z2":5},{"p":"W","k":"g","r":0,"t":30,"z":10,"r2":3,"t2":30,"z2":10},{"p":"W","k":"g","r":0,"t":30,"z":15,"r2":3,"t2":30,"z2":15},{"p":"W","k":"g","r":0,"t":30,"z":20,"r2":3,"t2":30,"z2":20},{"p":"W","k":"g","r":0,"t":30,"z":25,"r2":3,"t2":30,"z2":25},
{"p":"W","k":"g","r":3,"t":30,"z":0,"r2":3,"t2":0,"z2":0},{"p":"W","k":"g","r":3,"t":30,"z":5,"r2":3,"t2":0,"z2":5},{"p":"W","k":"g","r":3,"t":30,"z":10,"r2":3,"t2":0,"z2":10},{"p":"W","k":"g","r":3,"t":30,"z":15,"r2":3,"t2":0,"z2":15},{"p":"W","k":"g","r":3,"t":30,"z":20,"r2":3,"t2":0,"z2":20},{"p":"W","k":"g","r":3,"t":30,"z":25,"r2":3,"t2":0,"z2":25},
{"p":"W","k":"g","r":0.5,"t":30,"z":0,"r2":0.5,"t2":30,"z2":25},{"p":"W","k":"g","r":1,"t":30,"z":0,"r2":1,"t2":30,"z2":25},{"p":"W","k":"g","r":1.5,"t":30,"z":0,"r2":1.5,"t2":30,"z2":25},{"p":"W","k":"g","r":2,"t":30,"z":0,"r2":2,"t2":30,"z2":25},{"p":"W","k":"g","r":2.5,"t":30,"z":0,"r2":2.5,"t2":30,"z2":25},{"p":"W","k":"g","r":3,"t":30,"z":0,"r2":3,"t2":30,"z2":25},
{"p":"W","k":"g","r":3,"t":10,"z":0,"r2":3,"t2":10,"z2":25},{"p":"W","k":"g","r":3,"t":20,"z":0,"r2":3,"t2":20,"z2":25},
{"p":"W","k":"g","r":0.5,"t":0,"z":0,"r2":0.5,"t2":30,"z2":0},{"p":"W","k":"g","r":1,"t":0,"z":0,"r2":1,"t2":30,"z2":0},{"p":"W","k":"g","r":1.5,"t":0,"z":0,"r2":1.5,"t2":30,"z2":0},{"p":"W","k":"g","r":2,"t":0,"z":0,"r2":2,"t2":30,"z2":0},{"p":"W","k":"g","r":2.5,"t":0,"z":0,"r2":2.5,"t2":30,"z2":0},
{"p":"W","k":"g","r":0,"t":10,"z":0,"r2":3,"t2":10,"z2":0},{"p":"W","k":"g","r":0,"t":20,"z":0,"r2":3,"t2":20,"z2":0},
{"p":"W","k":"a","r":0,"t":30,"z":0,"r2":0,"t2":30,"z2":25},{"p":"W","k":"a","r":0,"t":0,"z":0,"r2":0,"t2":30,"z2":0},{"p":"W","k":"a","r":0,"t":0,"z":0,"r2":3,"t2":0,"z2":0},
{"p":"W","k":"a","r":0,"t":30,"z":0,"r2":0,"t2":31.3,"z2":0},{"p":"W","k":"a","r":0,"t":30,"z":5,"r2":0,"t2":31.3,"z2":5},{"p":"W","k":"a","r":0,"t":30,"z":10,"r2":0,"t2":31.3,"z2":10},{"p":"W","k":"a","r":0,"t":30,"z":15,"r2":0,"t2":31.3,"z2":15},{"p":"W","k":"a","r":0,"t":30,"z":20,"r2":0,"t2":31.3,"z2":20},{"p":"W","k":"a","r":0,"t":30,"z":25,"r2":0,"t2":31.3,"z2":25},
{"p":"W","k":"a","r":0,"t":0,"z":0,"r2":-0.07,"t2":0,"z2":0},{"p":"W","k":"a","r":0,"t":10,"z":0,"r2":-0.07,"t2":10,"z2":0},{"p":"W","k":"a","r":0,"t":20,"z":0,"r2":-0.07,"t2":20,"z2":0},{"p":"W","k":"a","r":0,"t":30,"z":0,"r2":-0.07,"t2":30,"z2":0},
{"p":"W","k":"a","r":0,"t":0,"z":0,"r2":0,"t2":-1.2,"z2":0},{"p":"W","k":"a","r":0.5,"t":0,"z":0,"r2":0.5,"t2":-1.2,"z2":0},{"p":"W","k":"a","r":1,"t":0,"z":0,"r2":1,"t2":-1.2,"z2":0},{"p":"W","k":"a","r":1.5,"t":0,"z":0,"r2":1.5,"t2":-1.2,"z2":0},{"p":"W","k":"a","r":2,"t":0,"z":0,"r2":2,"t2":-1.2,"z2":0},{"p":"W","k":"a","r":2.5,"t":0,"z":0,"r2":2.5,"t2":-1.2,"z2":0},{"p":"W","k":"a","r":3,"t":0,"z":0,"r2":3,"t2":-1.2,"z2":0}
],
"ZL":[
{"x":97,"y":217,"s":"25"},{"x":97,"y":325,"s":"20"},{"x":97,"y":433,"s":"15"},{"x":97,"y":540,"s":"10"},{"x":97,"y":649,"s":"5"},{"x":97,"y":758,"s":"0"},
{"x":1917,"y":149,"s":"25"},{"x":1917,"y":289,"s":"20"},{"x":1917,"y":428,"s":"15"},{"x":1917,"y":569,"s":"10"},{"x":1917,"y":709,"s":"5"},{"x":1917,"y":850,"s":"0"}
],
"TL":[
{"x":80,"y":794,"s":"30"},{"x":169,"y":835,"s":"25"},{"x":258,"y":876,"s":"20"},{"x":347,"y":918,"s":"15"},{"x":435,"y":959,"s":"10"},{"x":533,"y":1000,"s":"5"},{"x":621,"y":1041,"s":"0"},
{"x":691,"y":1047,"s":"0"},{"x":820,"y":1014,"s":"0.5"},{"x":923,"y":982,"s":"1"},{"x":1052,"y":950,"s":"1.5"},{"x":1156,"y":919,"s":"2"},{"x":1283,"y":887,"s":"2.5"},{"x":1387,"y":855,"s":"3"},
{"x":1909,"y":882,"s":"30"},{"x":2043,"y":932,"s":"20"},{"x":2180,"y":983,"s":"10"},{"x":2387,"y":1037,"s":"0"},
{"x":2524,"y":1024,"s":"0.5"},{"x":2640,"y":1010,"s":"1"},{"x":2780,"y":998,"s":"1.5"},{"x":2896,"y":984,"s":"2"},{"x":3034,"y":970,"s":"2.5"},{"x":3150,"y":957,"s":"3"}
],
"AT":[{"x":370,"y":1030,"s":"T Values"},{"x":997,"y":1044,"s":"R Values"},{"x":2100,"y":1045,"s":"T Values"},{"x":2701,"y":1062,"s":"R Values"}],
"AR":[{"x":38,"y":497,"s":"Time (h)"},{"x":1865,"y":508,"s":"Time (h)"}],
"CB":[{"x":572,"y":1208,"s":"a"},{"x":2401,"y":1208,"s":"b"}],
"CR":[{"x":543,"y":1208,"s":"("},{"x":615,"y":1208,"s":") Summer."},{"x":2372,"y":1208,"s":"("},{"x":2449,"y":1208,"s":") Winter."}]
},
"layer":[
{"data":{"name":"L"},
"transform":[
{"calculate":"datum.p=='S'?659.2+231.6*datum.r-17.8*datum.t:2352.6+254*datum.r-13.55*datum.t","as":"sx"},
{"calculate":"datum.p=='S'?659.2+231.6*datum.r2-17.8*datum.t2:2352.6+254*datum.r2-13.55*datum.t2","as":"sx2"},
{"calculate":"datum.p=='S'?1016.7-63.6*datum.r-8.29*datum.t-21.7*datum.z:1010.5-26.5*datum.r-5.08*datum.t-28.05*datum.z","as":"sy"},
{"calculate":"datum.p=='S'?1016.7-63.6*datum.r2-8.29*datum.t2-21.7*datum.z2:1010.5-26.5*datum.r2-5.08*datum.t2-28.05*datum.z2","as":"sy2"}],
"mark":{"type":"rule"},
"encoding":{
"x":{"field":"sx","type":"quantitative","axis":null,"scale":{"domain":[0,3259],"nice":false,"zero":false}},
"y":{"field":"sy","type":"quantitative","axis":null,"scale":{"domain":[1240,0],"nice":false,"zero":false}},
"x2":{"field":"sx2"},"y2":{"field":"sy2"},
"stroke":{"field":"k","type":"nominal","legend":null,"scale":{"domain":["g","a"],"range":["#e3e3e3","#303030"]}},
"strokeWidth":{"field":"k","type":"nominal","legend":null,"scale":{"domain":["g","a"],"range":[1.4,1.1]}}}},
{"data":{"name":"S"},
"transform":[
{"calculate":"datum.z+'_'+datum.i+'_'+datum.j","as":"id"},
{"calculate":"[0,1,2,3]","as":"ks"},{"flatten":["ks"],"as":["c"]},
{"calculate":"[0.15,0.4,0.7,1,1.3,1.6,1.9,2.05,2.2,2.35,2.5,2.625,2.75,2.875,3][datum.i+((datum.c==1||datum.c==2)?(datum.w||1):0)]","as":"R"},
{"calculate":"[1.6,2.4,3.2,4,5,6,7,8.5,10,13,16,20,25,30][datum.j+(datum.c>=2?(datum.h||1):0)]","as":"T"},
{"calculate":"659.2+231.6*datum.R-17.8*datum.T","as":"sx"},
{"calculate":"1016.7-63.6*datum.R-8.29*datum.T-21.7*datum.z","as":"sy"}],
"mark":{"type":"line","interpolate":"linear-closed","strokeWidth":1},
"encoding":{
"x":{"field":"sx","type":"quantitative","axis":null,"scale":{"domain":[0,3259],"nice":false,"zero":false}},
"y":{"field":"sy","type":"quantitative","axis":null,"scale":{"domain":[1240,0],"nice":false,"zero":false}},
"detail":{"field":"id"},"order":{"field":"c"},
"fill":{"field":"v","type":"quantitative","scale":{"domain":[0,0.31,0.62,0.99,1.54,1.97,2.47,2.96,3.39,3.83,4.32,4.69,5.06,5.43,5.8,6.17],"range":["#3e26a8","#4231c6","#4745e6","#4360fa","#3578fd","#2a8fee","#18a8dc","#03b8c8","#28c4a0","#60cf6c","#a5c93c","#d8ba2a","#fbb535","#fecb30","#f5e326","#f9fb15"]},
"legend":{"type":"gradient","orient":"none","legendX":1413,"legendY":38,"direction":"vertical","gradientLength":979,"gradientThickness":34,"values":[1,2,3,4,5,6],"format":"d","title":null,"labelFont":"Liberation Sans","labelFontWeight":"bold","labelFontSize":27,"labelColor":"#262626","labelOffset":10,"gradientStrokeColor":"#333333","gradientStrokeWidth":1,"labelOverlap":false}},
"stroke":{"field":"v","type":"quantitative","legend":null,"scale":{"domain":[-0.001,0.31,0.62,0.99,1.54,1.97,2.47,2.96,3.39,3.83,4.32,4.69,5.06,5.43,5.8,6.17],"range":["#3e26a8","#4231c6","#4745e6","#4360fa","#3578fd","#2a8fee","#18a8dc","#03b8c8","#28c4a0","#60cf6c","#a5c93c","#d8ba2a","#fbb535","#fecb30","#f5e326","#f9fb15"]}}}},
{"data":{"name":"W"},
"transform":[
{"calculate":"datum.z+'_'+datum.i+'_'+datum.j","as":"id"},
{"calculate":"[0,1,2,3]","as":"ks"},{"flatten":["ks"],"as":["c"]},
{"calculate":"[0.15,0.5,0.85,1.3,1.8,2.4,3][datum.i+((datum.c==1||datum.c==2)?(datum.w||1):0)]","as":"R"},
{"calculate":"[0.92,3,5,7,9,10.5,12,15,20,25,29.35][datum.j+(datum.c>=2?(datum.h||1):0)]","as":"T"},
{"calculate":"2352.6+254*datum.R-13.55*datum.T","as":"sx"},
{"calculate":"1010.5-26.5*datum.R-5.08*datum.T-28.05*datum.z","as":"sy"}],
"mark":{"type":"line","interpolate":"linear-closed","strokeWidth":1},
"encoding":{
"x":{"field":"sx","type":"quantitative","axis":null,"scale":{"domain":[0,3259],"nice":false,"zero":false}},
"y":{"field":"sy","type":"quantitative","axis":null,"scale":{"domain":[1240,0],"nice":false,"zero":false}},
"detail":{"field":"id"},"order":{"field":"c"},
"fill":{"field":"v","type":"quantitative","scale":{"domain":[0.135,0.6,1.07,1.63,2.47,3.12,3.87,4.61,5.26,5.92,6.66,7.22,7.78,8.34,8.9,9.46],"range":["#3e26a8","#4231c6","#4745e6","#4360fa","#3578fd","#2a8fee","#18a8dc","#03b8c8","#28c4a0","#60cf6c","#a5c93c","#d8ba2a","#fbb535","#fecb30","#f5e326","#f9fb15"]},
"legend":{"type":"gradient","orient":"none","legendX":3173,"legendY":78,"direction":"vertical","gradientLength":932,"gradientThickness":31,"values":[1,2,3,4,5,6,7,8,9],"format":"d","title":null,"labelFont":"Liberation Sans","labelFontWeight":"bold","labelFontSize":27,"labelColor":"#262626","labelOffset":11,"gradientStrokeColor":"#333333","gradientStrokeWidth":1,"labelOverlap":false}},
"stroke":{"field":"v","type":"quantitative","legend":null,"scale":{"domain":[0.134,0.6,1.07,1.63,2.47,3.12,3.87,4.61,5.26,5.92,6.66,7.22,7.78,8.34,8.9,9.46],"range":["#3e26a8","#4231c6","#4745e6","#4360fa","#3578fd","#2a8fee","#18a8dc","#03b8c8","#28c4a0","#60cf6c","#a5c93c","#d8ba2a","#fbb535","#fecb30","#f5e326","#f9fb15"]}}}},
{"data":{"name":"ZL"},"mark":{"type":"text","font":"Liberation Sans","fontWeight":"bold","fontSize":27,"color":"#262626","align":"right","baseline":"middle"},
"encoding":{"x":{"field":"x","type":"quantitative","axis":null,"scale":{"domain":[0,3259],"nice":false,"zero":false}},"y":{"field":"y","type":"quantitative","axis":null,"scale":{"domain":[1240,0],"nice":false,"zero":false}},"text":{"field":"s"}}},
{"data":{"name":"TL"},"mark":{"type":"text","font":"Liberation Sans","fontWeight":"bold","fontSize":27,"color":"#262626","align":"center","baseline":"middle"},
"encoding":{"x":{"field":"x","type":"quantitative","axis":null,"scale":{"domain":[0,3259],"nice":false,"zero":false}},"y":{"field":"y","type":"quantitative","axis":null,"scale":{"domain":[1240,0],"nice":false,"zero":false}},"text":{"field":"s"}}},
{"data":{"name":"AT"},"mark":{"type":"text","font":"Liberation Sans","fontWeight":"bold","fontSize":31,"color":"#262626","align":"center","baseline":"middle"},
"encoding":{"x":{"field":"x","type":"quantitative","axis":null,"scale":{"domain":[0,3259],"nice":false,"zero":false}},"y":{"field":"y","type":"quantitative","axis":null,"scale":{"domain":[1240,0],"nice":false,"zero":false}},"text":{"field":"s"}}},
{"data":{"name":"AR"},"mark":{"type":"text","font":"Liberation Sans","fontWeight":"bold","fontSize":31,"color":"#262626","align":"center","baseline":"middle","angle":270},
"encoding":{"x":{"field":"x","type":"quantitative","axis":null,"scale":{"domain":[0,3259],"nice":false,"zero":false}},"y":{"field":"y","type":"quantitative","axis":null,"scale":{"domain":[1240,0],"nice":false,"zero":false}},"text":{"field":"s"}}},
{"data":{"name":"CR"},"mark":{"type":"text","font":"Liberation Serif","fontSize":86,"color":"#000000","align":"left","baseline":"alphabetic"},
"encoding":{"x":{"field":"x","type":"quantitative","axis":null,"scale":{"domain":[0,3259],"nice":false,"zero":false}},"y":{"field":"y","type":"quantitative","axis":null,"scale":{"domain":[1240,0],"nice":false,"zero":false}},"text":{"field":"s"}}},
{"data":{"name":"CB"},"mark":{"type":"text","font":"Liberation Serif","fontWeight":"bold","fontSize":86,"color":"#000000","align":"left","baseline":"alphabetic"},
"encoding":{"x":{"field":"x","type":"quantitative","axis":null,"scale":{"domain":[0,3259],"nice":false,"zero":false}},"y":{"field":"y","type":"quantitative","axis":null,"scale":{"domain":[1240,0],"nice":false,"zero":false}},"text":{"field":"s"}}}
],
"resolve":{"scale":{"fill":"independent","stroke":"independent","strokeWidth":"independent"}}}
